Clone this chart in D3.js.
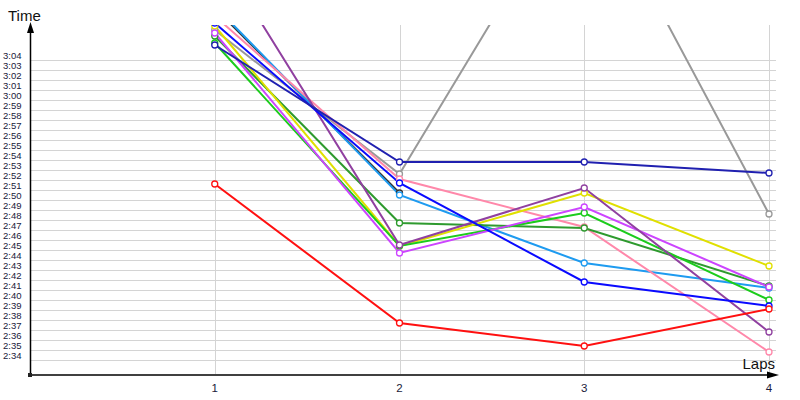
<!DOCTYPE html>
<html><head><meta charset="utf-8">
<script src="https://cdn.jsdelivr.net/npm/d3@7"></script>
<style>body{margin:0;background:#fff}svg{display:block}</style>
</head><body>
<svg id="c" width="800" height="400"></svg>
<script>
const laps = [1, 2, 3, 4];
// lap times in seconds (null = no lap)
const navy      = [185.5, 173.8, 173.8, 172.7];
const gray      = [187.0, 172.6, 203.2, 168.6];
const pink      = [188.4, 172.1, 167.3, 154.8];
const blue      = [187.7, 171.7, 161.8, 159.4];
const black     = [189.2, 170.7, null, null];
const lightBlue = [189.4, 170.5, 163.7, 161.2];
const darkGreen = [186.4, 167.7, 167.2, 161.4];
const purple    = [195.2, 165.5, 171.2, 156.8];
const yellow    = [187.4, 165.4, 170.7, 163.4];
const lime      = [185.7, 165.4, 168.7, 160.0];
const magenta   = [186.7, 164.7, 169.3, 161.3];
const red       = [171.6, 157.7, 155.4, 159.1];
const yTicks = d3.range(154, 185); // 2:34 .. 3:04
const xLabel = "Laps", yLabel = "Time";

const series = [
  {v: gray, c: "#999999"},
  {v: black, c: "#333333"},
  {v: lightBlue, c: "#1e9bf0"},
  {v: pink, c: "#ff88aa"},
  {v: darkGreen, c: "#2e9a2e"},
  {v: yellow, c: "#e0e000"},
  {v: lime, c: "#1ccc1c"},
  {v: magenta, c: "#cc44ff"},
  {v: purple, c: "#9040a0"},
  {v: blue, c: "#0a0aff"},
  {v: navy, c: "#2020b0"},
  {v: red, c: "#ff1010"}
];

const svg = d3.select("#c");
const x = d3.scaleLinear().domain([0, 4]).range([30, 769]);
const y = d3.scaleLinear().domain([152.6, 187.5]).range([374, 25]);
const fmt = s => Math.floor(s / 60) + ":" + String(s % 60).padStart(2, "0");

svg.append("defs").append("clipPath").attr("id", "clip")
  .append("rect").attr("x", 30).attr("y", 25).attr("width", 770).attr("height", 349);

// horizontal grid
svg.append("g").selectAll("line").data(yTicks).join("line")
  .attr("x1", 30).attr("x2", 776)
  .attr("y1", d => y(d) + 0.5).attr("y2", d => y(d) + 0.5)
  .attr("stroke", "#d4d4d4").attr("stroke-width", 1);
// vertical grid
svg.append("g").selectAll("line").data(laps).join("line")
  .attr("x1", d => Math.round(x(d)) + 0.5).attr("x2", d => Math.round(x(d)) + 0.5)
  .attr("y1", 25).attr("y2", 374)
  .attr("stroke", "#d4d4d4").attr("stroke-width", 1);

// y tick labels
svg.append("g").selectAll("text").data(yTicks).join("text")
  .attr("x", 3).attr("y", d => y(d) - 1)
  .attr("font-family", "Liberation Sans, Arial, sans-serif")
  .attr("font-size", 9.5).attr("fill", "#1a1a3a")
  .text(fmt);
// x tick labels
svg.append("g").selectAll("text").data(laps).join("text")
  .attr("x", d => x(d)).attr("y", 392).attr("text-anchor", "middle")
  .attr("font-family", "Liberation Sans, Arial, sans-serif")
  .attr("font-size", 11.5).attr("fill", "#1a1a3a")
  .text(d => d);

// lines
const plot = svg.append("g").attr("clip-path", "url(#clip)");
const line = d3.line().defined(d => d[1] != null).x(d => x(d[0])).y(d => y(d[1]));
series.forEach(s => {
  const pts = laps.map((l, i) => [l, s.v[i]]);
  plot.append("path").datum(pts).attr("d", line)
    .attr("fill", "none").attr("stroke", s.c).attr("stroke-width", 2);
});
series.forEach(s => {
  const pts = laps.map((l, i) => [l, s.v[i]]).filter(d => d[1] != null);
  plot.append("g").selectAll("circle").data(pts).join("circle")
    .attr("cx", d => x(d[0])).attr("cy", d => y(d[1])).attr("r", 3)
    .attr("fill", "#fff").attr("stroke", s.c).attr("stroke-width", 1.3);
});

// axes
svg.append("line").attr("x1", 30.5).attr("x2", 30.5).attr("y1", 374).attr("y2", 30)
  .attr("stroke", "#000").attr("stroke-width", 1.5);
svg.append("path").attr("d", "M30.5,22 L27,33 L34,33 Z").attr("fill", "#000");
svg.append("line").attr("x1", 30).attr("x2", 772).attr("y1", 375).attr("y2", 375)
  .attr("stroke", "#000").attr("stroke-width", 1.5);
svg.append("path").attr("d", "M779,375 L767,371.5 L767,378.5 Z").attr("fill", "#000");
svg.append("rect").attr("x", 28).attr("y", 373).attr("width", 4).attr("height", 4).attr("fill", "#222");

svg.append("text").attr("x", 8).attr("y", 21)
  .attr("font-family", "Liberation Sans, Arial, sans-serif").attr("font-size", 15)
  .attr("fill", "#111").text(yLabel);
svg.append("text").attr("x", 775).attr("y", 369).attr("text-anchor", "end")
  .attr("font-family", "Liberation Sans, Arial, sans-serif").attr("font-size", 15)
  .attr("fill", "#111").text(xLabel);
</script>
</body></html>
